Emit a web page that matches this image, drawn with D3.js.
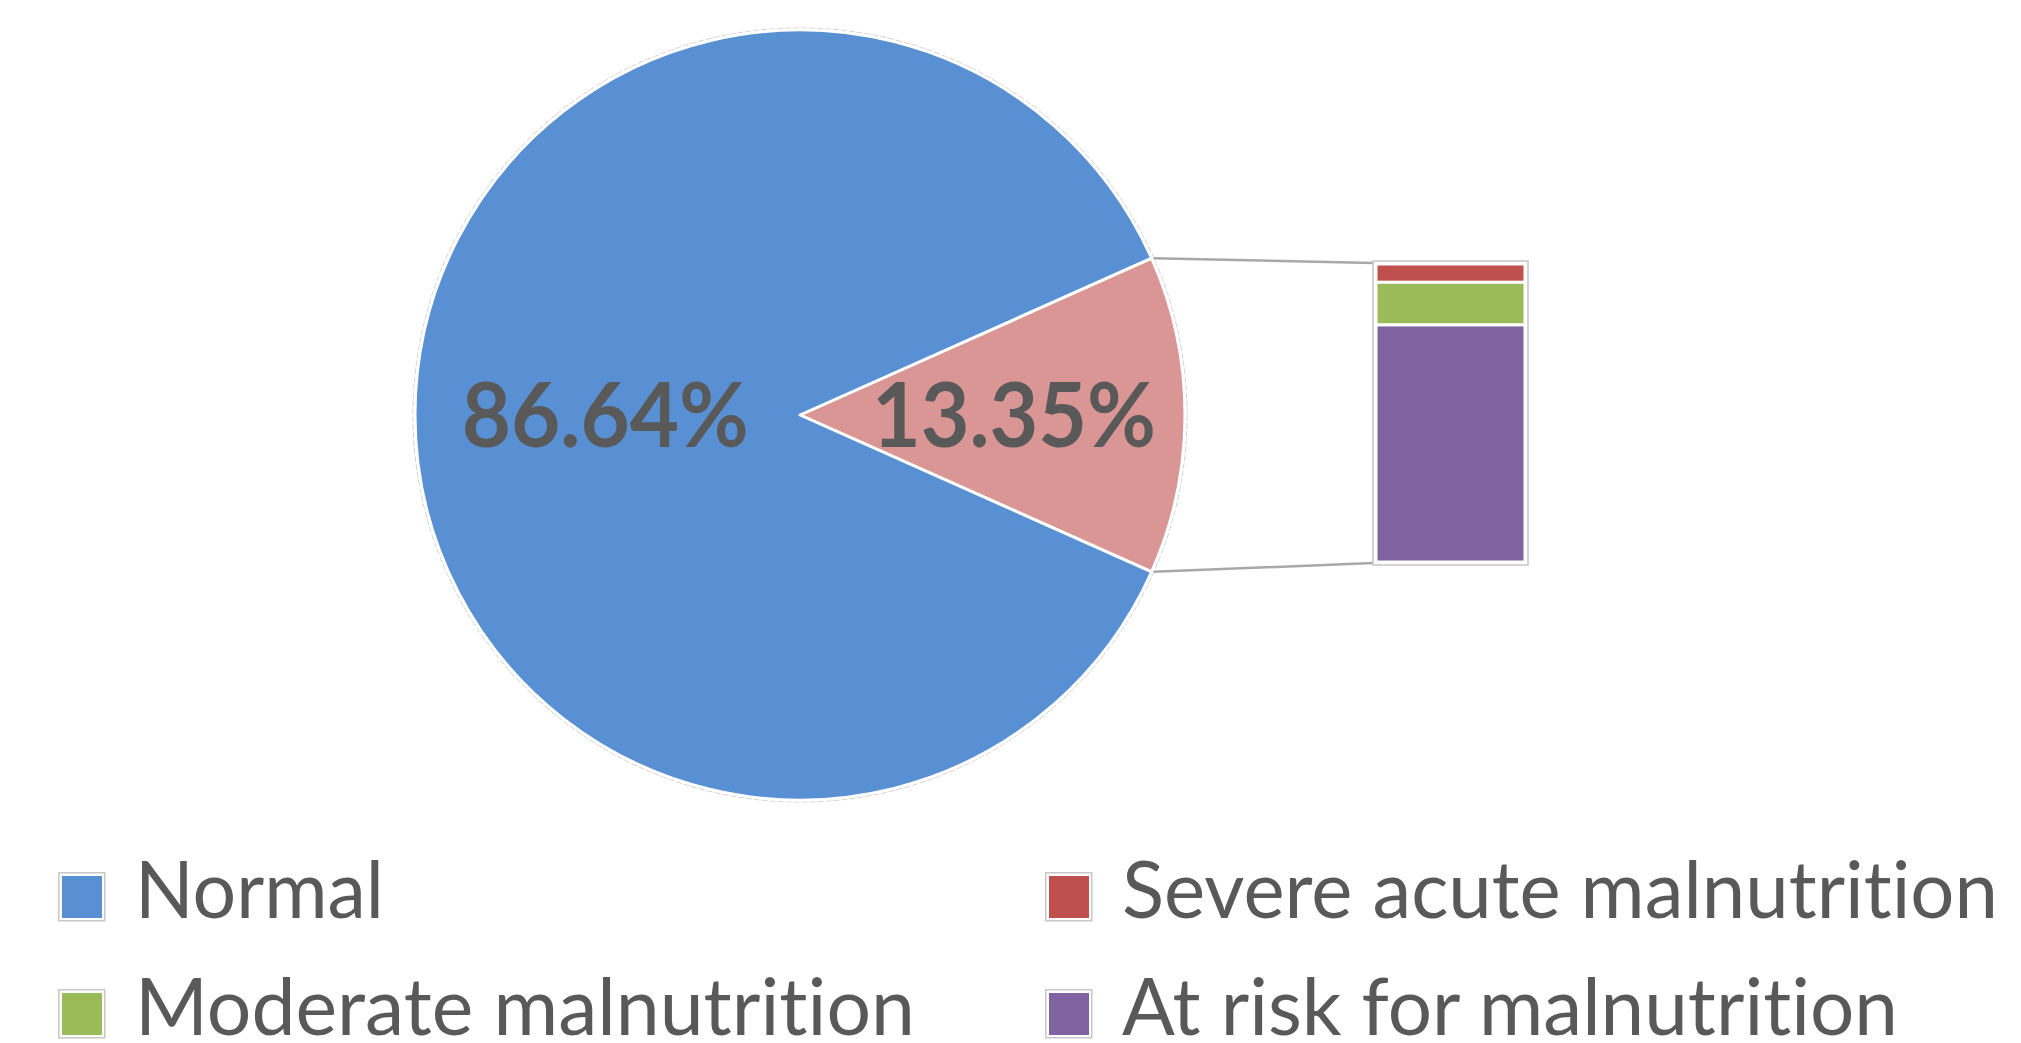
<!DOCTYPE html>
<html>
<head>
<meta charset="UTF-8">
<title>Nutritional status</title>
<script src="https://cdn.jsdelivr.net/npm/d3@7"></script>
<style>
  body { margin: 0; background: #fff; }
  svg { display: block; font-family: Lato, "Open Sans", sans-serif; font-variant-ligatures: none; font-feature-settings: "liga" 0, "clig" 0; }
</style>
</head>
<body>
<svg id="chart"></svg>
<script>
// main pie: the "malnutrition" slice goes first so it sits on the right
const pieLabels = ["Malnutrition", "Normal"];
const pieValues = [13.35, 86.64];
const pieText = ["13.35%", "86.64%"];

// split of the malnutrition slice, top to bottom in the bar
const subLabels = ["Severe acute malnutrition", "Moderate malnutrition", "At risk for malnutrition"];
const subValues = [0.82, 1.91, 10.62];

const legendLabels = ["Normal", "Severe acute malnutrition", "Moderate malnutrition", "At risk for malnutrition"];

const width = 2021, height = 1043;
const cx = 800, cy = 415, r = 385;
const textColor = "#595959";

const colors = {
  "Normal": "#5890d3",
  "Malnutrition": "#d99694",
  "Severe acute malnutrition": "#c0504d",
  "Moderate malnutrition": "#9bbb59",
  "At risk for malnutrition": "#8064a2"
};

const svg = d3.select("#chart").attr("width", width).attr("height", height);

// pie
const share = pieValues[0] / d3.sum(pieValues) * 2 * Math.PI;
const start = Math.PI / 2 - share / 2;
const pie = d3.pie().sort(null).startAngle(start).endAngle(start + 2 * Math.PI);
const arcs = pie(pieValues);
const arc = d3.arc().innerRadius(0).outerRadius(r);

const g = svg.append("g").attr("transform", `translate(${cx},${cy})`);

g.append("circle")
  .attr("r", r + 2)
  .attr("fill", "none")
  .attr("stroke", "#cfcfcf")
  .attr("stroke-width", 1)
  .attr("stroke-dasharray", "6 2");

g.selectAll("path.slice")
  .data(arcs)
  .enter()
  .append("path")
    .attr("class", "slice")
    .attr("d", arc)
    .attr("fill", (d, i) => colors[pieLabels[i]])
    .attr("stroke", "#fff")
    .attr("stroke-width", 3)
    .attr("stroke-linejoin", "round");

// labels: pink one a bit further out than the blue one
const labelArcs = [d3.arc().innerRadius(r * 0.556).outerRadius(r * 0.556),
                   d3.arc().innerRadius(r * 0.506).outerRadius(r * 0.506)];
const labelWidths = [284, 287];

g.selectAll("text.pct")
  .data(arcs)
  .enter()
  .append("text")
    .attr("class", "pct")
    .attr("x", (d, i) => labelArcs[i].centroid(d)[0])
    .attr("y", 32)
    .attr("text-anchor", "middle")
    .attr("font-weight", "bold")
    .attr("font-size", 89)
    .attr("fill", textColor)
    .attr("textLength", (d, i) => labelWidths[i])
    .attr("lengthAdjust", "spacingAndGlyphs")
    .text((d, i) => pieText[i]);

// bar of the malnutrition slice
const boxX = 1373, boxW = 155, boxTop = 261, boxBottom = 565;
const y = d3.scaleLinear()
  .domain([0, d3.sum(subValues)])
  .range([boxTop + 3, boxBottom - 3]);
const cum = d3.cumsum(subValues);

// connector lines from the slice edge to the box corners
const pinkArc = arcs[0];
const edge = a => [cx + r * Math.sin(a), cy - r * Math.cos(a)];
const p1 = edge(pinkArc.startAngle), p2 = edge(pinkArc.endAngle);

svg.append("g")
  .selectAll("line")
  .data([[p1, [boxX, boxTop + 2]], [p2, [boxX, boxBottom - 2]]])
  .enter()
  .append("line")
    .attr("x1", d => d[0][0] + 2)
    .attr("y1", d => d[0][1])
    .attr("x2", d => d[1][0])
    .attr("y2", d => d[1][1])
    .attr("stroke", "#a8a8a8")
    .attr("stroke-width", 2.5);

svg.append("rect")
  .attr("x", boxX)
  .attr("y", boxTop)
  .attr("width", boxW)
  .attr("height", boxBottom - boxTop)
  .attr("fill", "#fff")
  .attr("stroke", "#c4c4c4")
  .attr("stroke-width", 1.5);

svg.append("g")
  .selectAll("rect")
  .data(subValues)
  .enter()
  .append("rect")
    .attr("x", boxX + 3)
    .attr("y", (d, i) => y(cum[i] - d))
    .attr("width", boxW - 6)
    .attr("height", (d, i) => y(cum[i]) - y(cum[i] - d))
    .attr("fill", (d, i) => colors[subLabels[i]])
    .attr("stroke", "#fff")
    .attr("stroke-width", 3);

// legend, two columns
const legendX = [58, 1045], legendY = [872, 989];
const legendW = [249, 876, 780, 776];

const leg = svg.append("g")
  .selectAll("g")
  .data(legendLabels)
  .enter()
  .append("g")
    .attr("transform", (d, i) => `translate(${legendX[i % 2]},${legendY[Math.floor(i / 2)]})`);

leg.append("rect")
  .attr("x", 0.75).attr("y", 0.75)
  .attr("width", 46).attr("height", 48)
  .attr("fill", "#fff")
  .attr("stroke", "#c8c8c8")
  .attr("stroke-width", 1.5);

leg.append("rect")
  .attr("x", 4).attr("y", 4)
  .attr("width", 40).attr("height", 42)
  .attr("fill", d => colors[d]);

leg.append("text")
  .attr("x", 77)
  .attr("y", 46)
  .attr("font-size", 80)
  .attr("fill", textColor)
  .attr("textLength", (d, i) => legendW[i])
  .attr("lengthAdjust", "spacingAndGlyphs")
  .text(d => d);
</script>
</body>
</html>
